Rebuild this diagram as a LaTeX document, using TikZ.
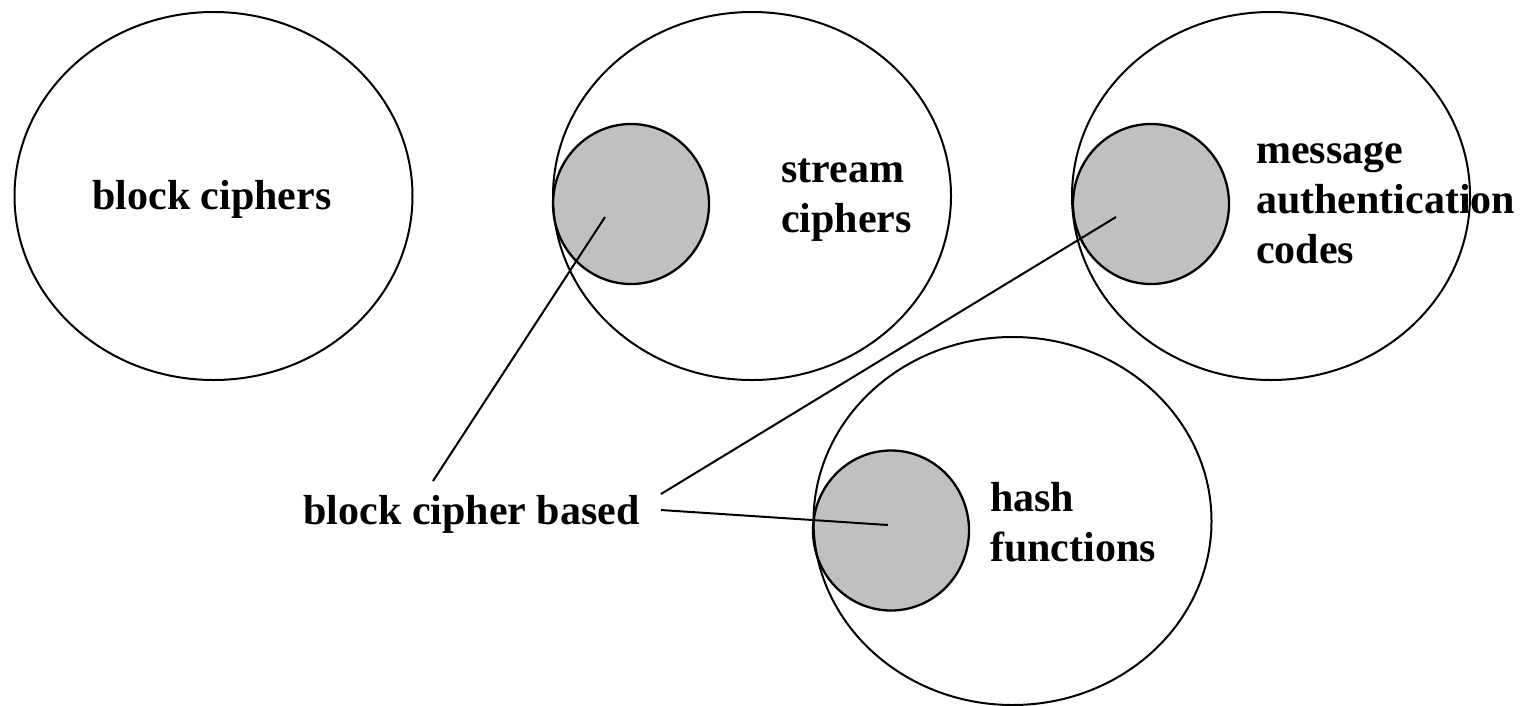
\documentclass[tikz,border=0pt]{standalone}
\usepackage{fontspec}
\setmainfont{Liberation Serif}
\usetikzlibrary{shapes.geometric}
\definecolor{shade}{HTML}{C0C0C0}
\tikzset{
  family/.style={ellipse, draw=black, line width=2pt, inner sep=0pt,
    minimum width=398pt, minimum height=368pt},
  core/.style={ellipse, draw=black, fill=shade, line width=2.3pt, inner sep=0pt,
    minimum width=156pt, minimum height=160pt},
  caption/.style={font=\fontsize{42}{50}\selectfont\bfseries, inner sep=0pt},
  leader/.style={line width=2pt}
}
\begin{document}
\begin{tikzpicture}[x=1pt,y=-1pt]
  \useasboundingbox (0,0) rectangle (1530,705);

  % shaded sub-areas (drawn first so the outer outlines stay visible)
  \node[core] (streamcore) at (631,204) {};
  \node[core] (maccore)    at (1151,204) {};
  \node[core] (hashcore)   at (891,530.5) {};

  % primitive families
  \node[family] (block)  at (213.5,196) {};
  \node[family] (stream) at (752,196) {};
  \node[family] (mac)    at (1271,196) {};
  \node[family] (hash)   at (1012.5,521) {};

  % labels (multi-line labels are anchored at their last baseline)
  \node[caption, anchor=base] (blocklbl) at (212,209) {block ciphers};
  \node[caption, anchor=base west, align=left] (streamlbl) at (781,232) {stream\\ciphers};
  \node[caption, anchor=base west, align=left] (maclbl) at (1256,263) {message\\authentication\\codes};
  \node[caption, anchor=base west, align=left] (hashlbl) at (990,561) {hash\\functions};
  \node[caption, anchor=base] (based) at (471.5,524) {block cipher based};

  % leader line end points
  \coordinate (s1) at (433,481);
  \coordinate (s2) at (661,494);
  \coordinate (s3) at (661,510);
  \coordinate (e1) at (605,217);
  \coordinate (e2) at (1116,217);
  \coordinate (e3) at (888,525);

  \draw[leader] (s1) -- (e1);
  \draw[leader] (s2) -- (e2);
  \draw[leader] (s3) -- (e3);
\end{tikzpicture}
\end{document}
